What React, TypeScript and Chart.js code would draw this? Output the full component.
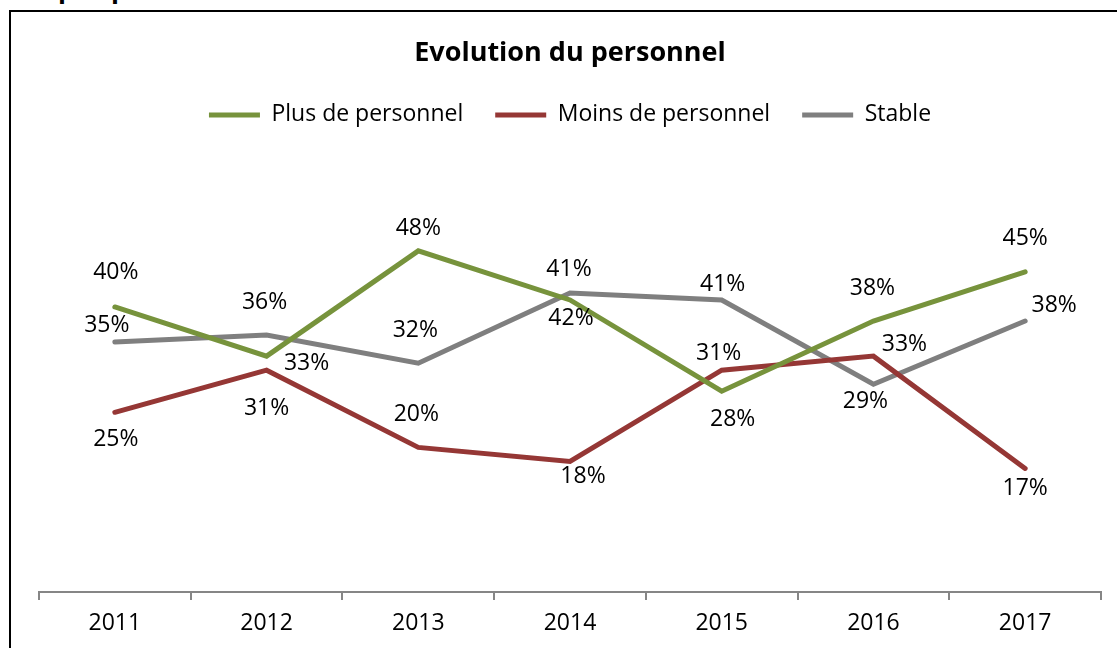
import React, { useEffect, useRef } from "react";
import { Chart, registerables } from "chart.js";

Chart.register(...registerables);

const years = ["2011", "2012", "2013", "2014", "2015", "2016", "2017"];
const plusPersonnel = [40, 33, 48, 41, 28, 38, 45];
const moinsPersonnel = [25, 31, 20, 18, 31, 33, 17];
const stable = [35, 36, 32, 42, 41, 29, 38];
const seriesNames = ["Plus de personnel", "Moins de personnel", "Stable"];
const chartTitle = "Evolution du personnel";

const COLORS = ["#77933C", "#953735", "#7F7F7F"];
const FONT = "'Open Sans', 'DejaVu Sans', sans-serif";

// label placement offsets (px) relative to each point, per series
const labelOffsets: [number, number][][] = [
  [[1, -35], [40, 7], [0, -22], [-1, -31], [11, 28], [-1, -33], [0, -33]],
  [[1, 27], [0, 38], [-2, -33], [13, 15], [-3, -17], [31, -12], [0, 20]],
  [[-8, -17], [-2, -33], [-3, -33], [1, 26], [1, -16], [-8, 17], [29, -16]],
];

const dataLabelPlugin = {
  id: "pointLabels",
  afterDatasetsDraw(chart: any) {
    const ctx = chart.ctx;
    ctx.save();
    ctx.font = `23px ${FONT}`;
    ctx.fillStyle = "#000";
    ctx.textAlign = "center";
    ctx.textBaseline = "middle";
    chart.data.datasets.forEach((ds: any, di: number) => {
      const meta = chart.getDatasetMeta(di);
      meta.data.forEach((pt: any, i: number) => {
        const off = labelOffsets[di][i];
        ctx.fillText(`${Math.round(ds.data[i])}%`, pt.x + off[0], pt.y + off[1]);
      });
    });
    ctx.restore();
  },
};

export default function App() {
  const ref = useRef<HTMLCanvasElement>(null);

  useEffect(() => {
    document.body.style.margin = "0";
    const seriesData = [plusPersonnel, moinsPersonnel, stable];
    const chart = new Chart(ref.current!, {
      type: "line",
      data: {
        labels: years,
        datasets: seriesData.map((d, i) => ({
          label: seriesNames[i],
          data: d,
          borderColor: COLORS[i],
          backgroundColor: COLORS[i],
          borderWidth: 5,
          borderCapStyle: "round" as const,
          borderJoinStyle: "miter" as const,
          pointRadius: 0,
          pointHoverRadius: 0,
          tension: 0,
        })),
      },
      options: {
        responsive: false,
        animation: false,
        events: [],
        layout: { padding: { left: 39, right: 16, top: 0, bottom: 1 } },
        plugins: {
          title: {
            display: true,
            text: chartTitle,
            color: "#000",
            font: { family: FONT, size: 27, weight: "bold" },
            padding: { top: 37, bottom: 2 },
          },
          legend: {
            display: true,
            position: "top",
            labels: {
              color: "#000",
              font: { family: FONT, size: 23 },
              usePointStyle: true,
              pointStyle: "line",
              pointStyleWidth: 51,
              boxHeight: 5,
              padding: 32,
            },
          },
          tooltip: { enabled: false },
        },
        scales: {
          x: {
            offset: true,
            grid: {
              offset: true,
              display: true,
              drawOnChartArea: false,
              drawTicks: true,
              tickLength: 8,
              color: "#868686",
              lineWidth: 2,
            },
            border: { display: true, color: "#868686", width: 2 },
            ticks: {
              color: "#000",
              font: { family: FONT, size: 23, lineHeight: 1 },
              padding: 12,
              maxRotation: 0,
            },
          },
          y: {
            display: false,
            min: -0.6,
            max: 64.3,
          },
        },
      },
      plugins: [dataLabelPlugin],
    });
    return () => chart.destroy();
  }, []);

  return (
    <div
      style={{
        position: "relative",
        width: 1117,
        height: 648,
        overflow: "hidden",
        background: "#fff",
      }}
    >
      <span
        style={{
          position: "absolute",
          left: 58,
          top: -25,
          font: `bold 26px/26px ${FONT}`,
          color: "#000",
        }}
      >
        p
      </span>
      <span
        style={{
          position: "absolute",
          left: 111,
          top: -25,
          font: `bold 26px/26px ${FONT}`,
          color: "#000",
        }}
      >
        p
      </span>
      <div
        style={{
          position: "absolute",
          left: 9,
          top: 10,
          width: 1200,
          height: 700,
          borderLeft: "2px solid #000",
          borderTop: "2px solid #000",
        }}
      />
      <canvas
        ref={ref}
        width={1117}
        height={648}
        style={{ position: "absolute", left: 0, top: 0, width: 1117, height: 648 }}
      />
    </div>
  );
}
